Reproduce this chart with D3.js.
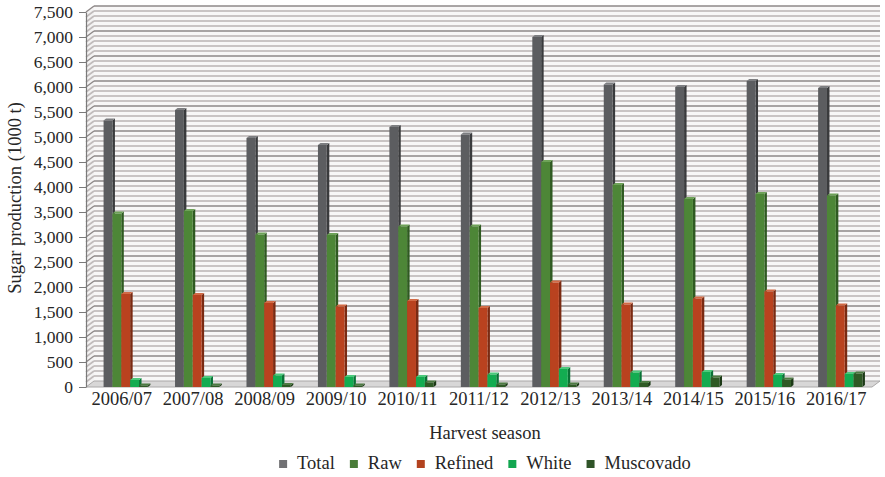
<!DOCTYPE html>
<html>
<head>
<meta charset="utf-8">
<script src="https://cdn.jsdelivr.net/npm/d3@7"></script>
<style>
  html, body { margin: 0; padding: 0; background: #ffffff; }
  svg { display: block; font-family: "Liberation Serif", "Times New Roman", serif; }
</style>
</head>
<body>
<svg id="chart" width="885" height="477"></svg>
<script>
// Sugar production by harvest season (thousand tonnes)
const seasons   = ["2006/07", "2007/08", "2008/09", "2009/10", "2010/11", "2011/12",
                   "2012/13", "2013/14", "2014/15", "2015/16", "2016/17"];
const seriesNames = ["Total", "Raw", "Refined", "White", "Muscovado"];
const total     = [5330, 5540, 4980, 4840, 5200, 5050, 7000, 6050, 6000, 6120, 5980];
const raw       = [3470, 3520, 3050, 3040, 3210, 3210, 4500, 4040, 3760, 3860, 3830];
const refined   = [1860, 1840, 1680, 1610, 1720, 1580, 2090, 1650, 1770, 1910, 1630];
const white     = [140, 180, 230, 200, 200, 250, 360, 290, 300, 240, 260];
const muscovado = [30, 30, 40, 30, 90, 50, 50, 80, 190, 150, 270];
const yTicks    = d3.range(0, 7501, 500);

const seriesValues = [total, raw, refined, white, muscovado];

// face colours for the pseudo-3D columns: front, side, top
const palette = {
  "Total":     { front: "#5c5d60", side: "#3a3b3d", top: "#7d7e81", key: "#717174" },
  "Raw":       { front: "#4d8637", side: "#2f5a21", top: "#6ea258", key: "#4a7c39" },
  "Refined":   { front: "#b9421f", side: "#7a2a12", top: "#d26a45", key: "#b3431f" },
  "White":     { front: "#13ac51", side: "#0a7236", top: "#4cc97c", key: "#12a650" },
  "Muscovado": { front: "#2f5a25", side: "#1c3916", top: "#4d7a42", key: "#2f5428" }
};

const FONT = "Liberation Serif, Times New Roman, serif";
const svg = d3.select("#chart");

// front plane and depth offset of the box
const X0 = 86, X1 = 872, Y0 = 387, Y1 = 12;
const DX = 8, DY = -6;

const x = d3.scaleBand().domain(seasons).range([X0, X1]).paddingInner(0.38).paddingOuter(0.19);
const xs = d3.scaleBand().domain(seriesNames).range([0, x.bandwidth()]);
const y = d3.scaleLinear().domain([0, 7500]).range([Y0, Y1]);

const minorVals = d3.range(100, 7500, 100).filter(v => v % 500 !== 0);
const majorVals = d3.range(500, 7501, 500);

// back wall
const wall = svg.append("g");
wall.append("rect")
  .attr("x", X0 + DX).attr("y", Y1 + DY)
  .attr("width", X1 - X0).attr("height", Y0 - Y1)
  .attr("fill", "#f8f7f7");
wall.selectAll("line.minor").data(minorVals).join("line")
  .attr("class", "minor")
  .attr("x1", X0 + DX).attr("x2", X1 + DX)
  .attr("y1", d => y(d) + DY).attr("y2", d => y(d) + DY)
  .attr("stroke", "#c9c4c4").attr("stroke-width", 2);
wall.selectAll("line.major").data(majorVals).join("line")
  .attr("class", "major")
  .attr("x1", X0 + DX).attr("x2", X1 + DX)
  .attr("y1", d => y(d) + DY).attr("y2", d => y(d) + DY)
  .attr("stroke", "#8e8888").attr("stroke-width", 1.6);

// left side wall
const side = svg.append("g");
side.append("path")
  .attr("d", `M${X0},${Y1}L${X0 + DX},${Y1 + DY}L${X0 + DX},${Y0 + DY}L${X0},${Y0}Z`)
  .attr("fill", "#f3f2f2");
side.selectAll("line.minor").data(minorVals).join("line")
  .attr("class", "minor")
  .attr("x1", X0).attr("y1", d => y(d))
  .attr("x2", X0 + DX).attr("y2", d => y(d) + DY)
  .attr("stroke", "#c0bbbb").attr("stroke-width", 1.6);
side.selectAll("line.major").data(majorVals).join("line")
  .attr("class", "major")
  .attr("x1", X0).attr("y1", d => y(d))
  .attr("x2", X0 + DX).attr("y2", d => y(d) + DY)
  .attr("stroke", "#8e8888").attr("stroke-width", 1.4);

// floor
svg.append("path")
  .attr("d", `M${X0},${Y0}L${X1},${Y0}L${X1 + DX},${Y0 + DY}L${X0 + DX},${Y0 + DY}Z`)
  .attr("fill", "#d8d7d7").attr("stroke", "#aaa8a8").attr("stroke-width", 1);

// columns
const sdx = 2.5, sdy = -2;          // column depth
const shiftX = DX / 2;              // columns stand in the middle of the floor depth
const bars = [];
seasons.forEach((s, i) => {
  seriesNames.forEach((name, k) => {
    bars.push({ season: s, name, value: seriesValues[k][i] });
  });
});

const barG = svg.append("g");
const bar = barG.selectAll("g.bar").data(bars).join("g").attr("class", "bar");
bar.each(function (d) {
  const g = d3.select(this);
  const c = palette[d.name];
  const bx = x(d.season) + xs(d.name) + shiftX;
  const bw = xs.bandwidth();
  const top = y(d.value);
  const base = y(0);
  g.append("path")
    .attr("d", `M${bx + bw},${top}L${bx + bw + sdx},${top + sdy}L${bx + bw + sdx},${base + sdy}L${bx + bw},${base}Z`)
    .attr("fill", c.side);
  g.append("path")
    .attr("d", `M${bx},${top}L${bx + sdx},${top + sdy}L${bx + bw + sdx},${top + sdy}L${bx + bw},${top}Z`)
    .attr("fill", c.top);
  g.append("rect")
    .attr("x", bx).attr("y", top)
    .attr("width", bw).attr("height", base - top)
    .attr("fill", c.front);
});

// value axis
const yAxis = svg.append("g")
  .attr("transform", `translate(${X0},0)`)
  .call(d3.axisLeft(y).tickValues(yTicks).tickFormat(d3.format(",")).tickSize(7).tickSizeOuter(0).tickPadding(6));
yAxis.attr("font-family", FONT);
yAxis.select(".domain").attr("stroke", "#7a7a7a").attr("stroke-width", 1.2);
yAxis.selectAll(".tick line").attr("stroke", "#7a7a7a");
yAxis.selectAll(".tick text")
  .attr("font-size", 17.5).attr("fill", "#262626");

// category axis
const xAxis = svg.append("g")
  .attr("transform", `translate(0,${Y0})`)
  .call(d3.axisBottom(x).tickSize(0).tickPadding(5));
xAxis.attr("font-family", FONT);
xAxis.select(".domain").remove();
xAxis.selectAll(".tick text")
  .attr("font-size", 18.5).attr("fill", "#262626");

// axis titles
svg.append("text")
  .attr("transform", "translate(21,198) rotate(-90)")
  .attr("text-anchor", "middle")
  .attr("font-size", 18.5).attr("fill", "#262626")
  .text("Sugar production (1000 t)");

svg.append("text")
  .attr("x", 485).attr("y", 439)
  .attr("text-anchor", "middle")
  .attr("font-size", 18.5).attr("fill", "#262626")
  .text("Harvest season");

// legend
const legend = svg.append("g");
const items = legend.selectAll("g.item").data(seriesNames).join("g").attr("class", "item");
items.append("rect")
  .attr("width", 8).attr("height", 8)
  .attr("y", 460)
  .attr("fill", d => palette[d].key);
items.append("text")
  .attr("y", 469)
  .attr("font-size", 18.5).attr("fill", "#262626")
  .text(d => d);
let cursor = 0;
const offsets = [];
items.each(function () {
  const w = d3.select(this).select("text").node().getComputedTextLength();
  offsets.push(cursor);
  cursor += 8 + 10 + w + 15;
});
const legendWidth = cursor - 15;
const legendStart = 485 - legendWidth / 2;
items.each(function (d, i) {
  const g = d3.select(this);
  g.select("rect").attr("x", legendStart + offsets[i]);
  g.select("text").attr("x", legendStart + offsets[i] + 18);
});
</script>
</body>
</html>
